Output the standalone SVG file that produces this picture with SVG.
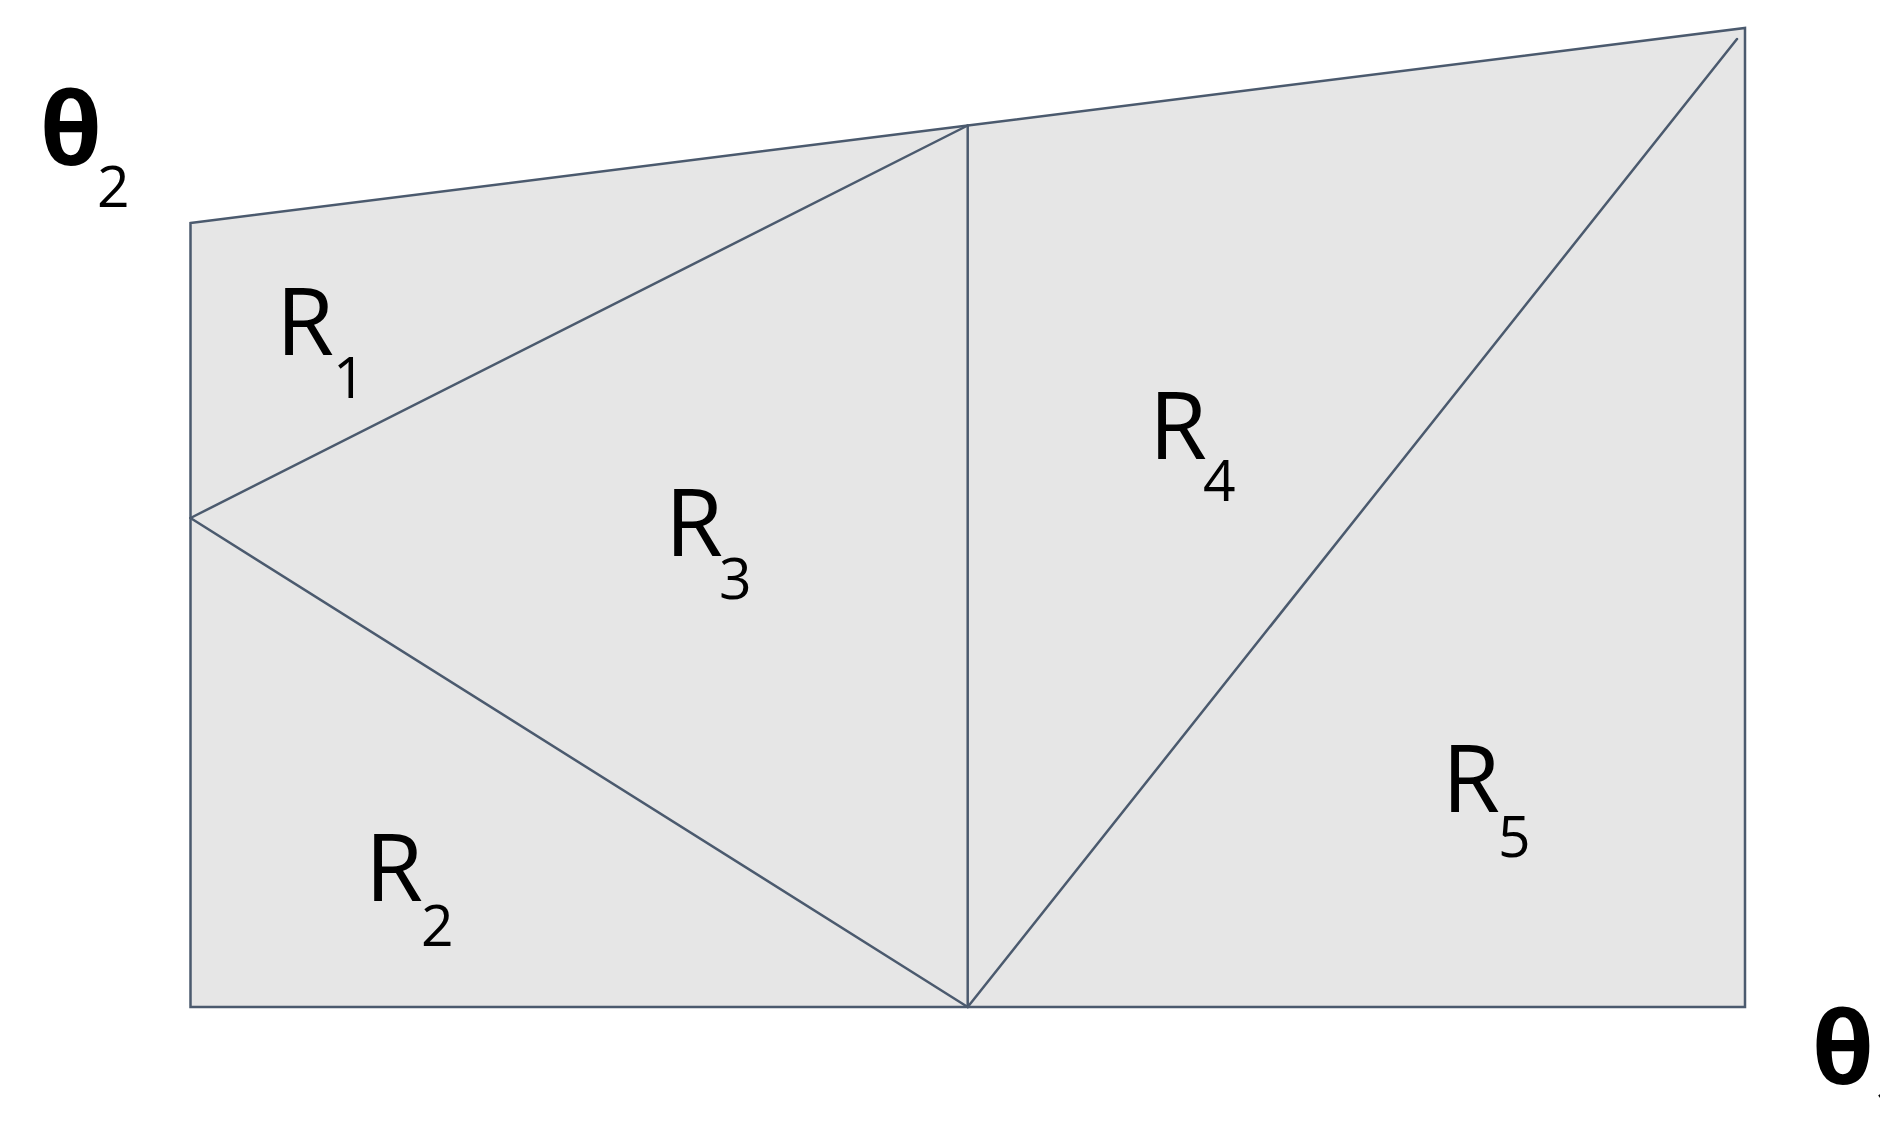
<svg xmlns="http://www.w3.org/2000/svg" width="1880" height="1121" viewBox="0 0 1880 1121">
  <style>
    .lbl { font-family: "Open Sans", "Liberation Sans", sans-serif; font-size: 94px; fill: #000; }
    .sub { font-family: "Open Sans", "Liberation Sans", sans-serif; font-size: 57px; fill: #000; }
    .ax { font-family: "Open Sans", "Liberation Sans", sans-serif; font-size: 100px; font-weight: bold; fill: #000; }
    .edge { stroke: #4b5a6e; stroke-width: 2.5; fill: none; stroke-linecap: round; }
  </style>
  <rect width="1880" height="1121" fill="#ffffff"/>
  <g id="region-area">
    <polygon points="190.5,223 967.7,125.5 1745,28 1745,1007 190.5,1007" fill="#e6e6e6" stroke="#4b5a6e" stroke-width="2.5" stroke-linejoin="miter"/>
  </g>
  <g id="connectors">
    <line class="edge" x1="190.5" y1="518" x2="967.7" y2="125.5"/>
    <line class="edge" x1="190.5" y1="518" x2="967.7" y2="1007"/>
    <line class="edge" x1="967.7" y1="125.5" x2="967.7" y2="1007"/>
    <line class="edge" x1="967.7" y1="1007" x2="1737" y2="39"/>
  </g>
  <g id="R1"><text class="lbl" x="276" y="355">R</text><text class="sub" x="333" y="398">1</text></g>
  <g id="R2"><text class="lbl" x="365" y="901">R</text><text class="sub" x="421" y="946">2</text></g>
  <g id="R3"><text class="lbl" x="665" y="556">R</text><text class="sub" x="719" y="599">3</text></g>
  <g id="R4"><text class="lbl" x="1149" y="459">R</text><text class="sub" x="1203" y="501">4</text></g>
  <g id="R5"><text class="lbl" x="1442" y="812">R</text><text class="sub" x="1498" y="857">5</text></g>
  <g id="theta2"><text class="ax" x="40" y="165">θ</text><text class="sub" x="97" y="207">2</text></g>
  <g id="theta1"><text class="ax" x="1812" y="1084">θ</text><text class="sub" x="1873" y="1128">1</text></g>
</svg>
